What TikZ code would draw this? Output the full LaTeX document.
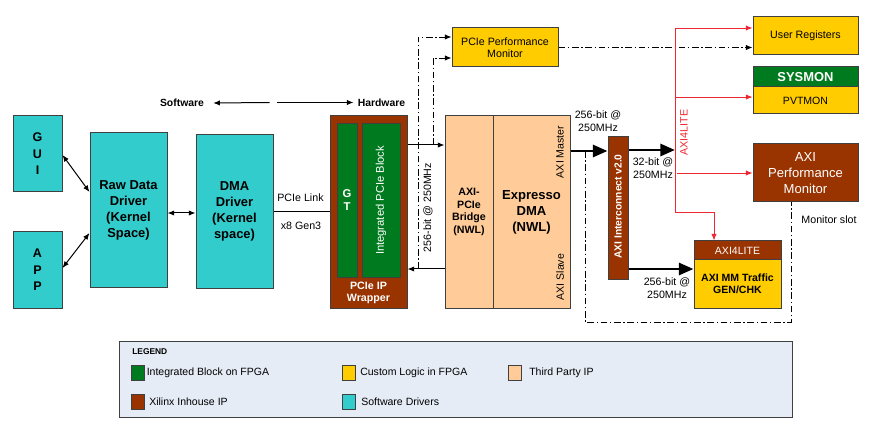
\documentclass[tikz,border=0pt]{standalone}
\usepackage{fontspec}
\setmainfont{Liberation Sans}
\usetikzlibrary{arrows.meta,calc}
\definecolor{tealc}{HTML}{33CCCC}
\definecolor{brownc}{HTML}{993300}
\definecolor{greenc}{HTML}{007A1E}
\definecolor{yellowc}{HTML}{FFCC00}
\definecolor{peachc}{HTML}{FFCC99}
\definecolor{redc}{RGB}{238,40,50}
\definecolor{legbg}{HTML}{E6ECF6}
\definecolor{boxline}{HTML}{404040}
\begin{document}
\begin{tikzpicture}[x=0.75pt,y=-0.75pt,
  every node/.style={inner sep=0pt},
  box/.style={draw=boxline, line width=0.75pt, align=center, anchor=center},
  sz/.style 2 args={minimum width=#1*0.75pt, minimum height=#2*0.75pt},
  reg/.style={font=\fontsize{8}{9.75}\selectfont, align=center},
  conn/.style={draw=black, line width=0.75pt},
  arr/.style={conn, -{Latex[length=5pt,width=4pt]}},
  darr/.style={conn, {Latex[length=5pt,width=4pt]}-{Latex[length=5pt,width=4pt]}},
  thk/.style={draw=black, line width=2.2pt, -{Triangle[length=11pt,width=9pt]}},
  dd/.style={draw=black, line width=0.6pt, dash pattern=on 5pt off 2pt on 1pt off 2pt},
  ddarr/.style={dd, -{Latex[length=5pt,width=4pt]}},
  redl/.style={draw=redc, line width=0.6pt},
  redarr/.style={redl, -{Latex[length=5pt,width=4pt]}},
  legtext/.style={anchor=west, font=\fontsize{7.9}{9}\selectfont}
]
\useasboundingbox (0,0) rectangle (874,445);

% software side
\node[box, fill=tealc, sz={49}{76}, font=\bfseries\fontsize{9.4}{12.4}\selectfont] (gui) at (37.5,154) {G\\U\\I};
\node[box, fill=tealc, sz={49}{76}, font=\bfseries\fontsize{9.4}{12.4}\selectfont] (app) at (37.5,270) {A\\P\\P};
\node[box, fill=tealc, sz={77}{154}, font=\bfseries\fontsize{9.7}{12}\selectfont] (raw) at (128.5,210) {Raw Data\\Driver\\(Kernel\\Space)};
\node[box, fill=tealc, sz={77}{153}, font=\bfseries\fontsize{9.7}{12}\selectfont] (dma) at (234.5,211.5) {DMA\\Driver\\(Kernel\\space)};

% PCIe wrapper
\node[box, fill=brownc, sz={77}{192}] (wrap) at (368.5,212) {};
\node[box, fill=greenc, sz={20}{153}, text=white, font=\bfseries\fontsize{8.5}{9.75}\selectfont] (gt) at (347,200.5) {G\\T};
\node[box, fill=greenc, rotate=90, minimum width=153*0.75pt, minimum height=38*0.75pt, text=white, font=\fontsize{8.4}{10}\selectfont] (ipb) at (381,200.5) {Integrated PCIe Block};
\node[text=white, font=\bfseries\fontsize{8}{9}\selectfont, align=center] (wraptxt) at (368.5,293) {PCIe IP\\Wrapper};

% bridge and DMA
\node[box, fill=peachc, sz={48}{192}, font=\bfseries\fontsize{8}{9.5}\selectfont] (bridge) at (469,212) {AXI-\\PCIe\\Bridge\\(NWL)};
\node[box, fill=peachc, sz={77}{192}, font=\bfseries\fontsize{9.8}{12}\selectfont] (xdma) at (531.5,212) {Expresso\\DMA\\(NWL)};
\node[reg, rotate=90, font=\fontsize{7.9}{9}\selectfont] (axim) at (560,152) {AXI Master};
\node[reg, rotate=90, font=\fontsize{7.9}{9}\selectfont] (axis) at (560,277) {AXI Slave};

% PCIe performance monitor
\node[box, fill=yellowc, sz={106}{39}, font=\fontsize{8}{9.4}\selectfont] (ppm) at (505,47.5) {PCIe Performance\\Monitor};

% right side
\node[box, fill=yellowc, sz={105}{38}, font=\fontsize{8}{9.4}\selectfont] (ureg) at (805.5,36) {User Registers};
\node[box, fill=greenc, sz={105}{20}, text=white, font=\bfseries\fontsize{9.7}{11}\selectfont] (sysmon) at (805.5,77) {SYSMON};
\node[box, fill=yellowc, sz={105}{27}, font=\fontsize{7.9}{9}\selectfont] (pvt) at (805.5,100.5) {PVTMON};
\node[box, fill=brownc, sz={105}{58}, text=white, font=\fontsize{9.8}{12}\selectfont] (axipm) at (805.5,173) {AXI\\Performance\\Monitor};
\node[box, fill=brownc, sz={87}{19}, text=white, font=\fontsize{7.9}{9}\selectfont] (tghead) at (737.5,250.5) {AXI4LITE};
\node[box, fill=yellowc, sz={87}{48}, font=\bfseries\fontsize{7.9}{9}\selectfont] (tgbody) at (737.5,284) {AXI MM Traffic\\GEN/CHK};
\node[box, fill=brownc, sz={20}{142}] (ic) at (618,208) {};
\node[rotate=90, text=white, font=\bfseries\fontsize{7.7}{9}\selectfont] (ictxt) at (618,206.5) {AXI Interconnect v2.0};

% software / hardware
\node[font=\bfseries\fontsize{7.8}{9}\selectfont] (swtext) at (182,103) {Software};
\node[font=\bfseries\fontsize{7.8}{9}\selectfont] (hwtext) at (381.5,102.5) {Hardware};
\coordinate (swsplit) at (273,102.5);
\draw[arr] ([xshift=-2.5pt]swsplit) -- ([xshift=6.75pt]swtext.east);
\draw[arr] ([xshift=3pt]swsplit) -- ([xshift=-3pt]hwtext.west);

% software connectors
\draw[darr] ([yshift=-0.75pt]gui.east) -- ([yshift=13.5pt]raw.west);
\draw[darr] ([yshift=1.5pt]app.east) -- ([yshift=-17.25pt]raw.west);
\draw[darr] ([yshift=-2.25pt]raw.east) -- ([yshift=-2.25pt]raw.east -| dma.west);
\draw[conn] (dma.east) -- (dma.east -| wrap.west);
\node[reg] (plink) at (300.5,198) {PCIe Link};
\node[reg] (pgen) at (301,226) {x8 Gen3};

% wrapper <-> bridge
\coordinate (wb1) at ([yshift=50.25pt]wrap.east);
\coordinate (wb2) at ([yshift=-42.75pt]wrap.east);
\draw[arr] (wb1) -- (wb1 -| bridge.west);
\draw[arr] (wb2 -| bridge.west) -- (wb2);
\coordinate (tapA) at (418,269);
\coordinate (tapB) at (433,145);
\draw[ddarr] (tapA) |- ([yshift=7.875pt]ppm.west);
\draw[ddarr] (tapB) |- ([yshift=-7.875pt]ppm.west);
\node[reg, rotate=90] (bw) at (428,207.5) {256-bit @ 250MHz};
\draw[ddarr] (ppm.east) -- (ppm.east -| ureg.west);

% thick data paths
\coordinate (xm) at ([yshift=45.75pt]xdma.east);
\draw[thk] (xm) -- (xm -| ic.west);
\coordinate (rtop) at (675,28);
\coordinate (rbot) at (675,212);
\coordinate (icu) at ([yshift=43.5pt]ic.east);
\draw[thk] (icu) -- (icu -| rtop);
\coordinate (icl) at ([yshift=-45.75pt]ic.east);
\draw[thk] (icl) -- (icl -| tgbody.west);
\node[reg] (bw1) at (598,121) {256-bit @\\250MHz};
\node[reg] (bw2) at (653,168) {32-bit @\\250MHz};
\node[reg] (bw3) at (667,288) {256-bit @\\250MHz};

% monitor slot
\coordinate (tapC) at (585,151);
\coordinate (ddbot) at (791,322);
\draw[dd] (tapC) |- (ddbot) -- ([xshift=-10.875pt]axipm.south);
\node[reg] (mslot) at (829,220) {Monitor slot};

% AXI4LITE red bus
\draw[redl] (rtop) -- (rbot);
\draw[redarr] (rtop) -- (rtop -| ureg.west);
\coordinate (pvtin) at ([yshift=2.6pt]pvt.west);
\draw[redarr] (rtop |- pvtin) -- (pvtin);
\draw[redarr] ([xshift=1.5pt]rtop |- axipm.west) -- (axipm.west);
\coordinate (tgin) at ([xshift=-17.625pt]tghead.north);
\draw[redarr] (rbot) -| (tgin);
\node[reg, rotate=90, text=redc] (a4l) at (684,132.5) {AXI4LITE};

% legend
\node[draw=boxline, fill=legbg, line width=0.75pt, minimum width=673*0.75pt, minimum height=76*0.75pt] (legend) at (455.5,379) {};
\node[anchor=west, font=\bfseries\fontsize{6.3}{7}\selectfont] (legt) at (132,352) {LEGEND};
\node[box, fill=greenc, sz={13}{15}] (lg1) at (137.5,372.5) {};
\node[legtext] (lt1) at (146.5,372.5) {Integrated Block on FPGA};
\node[box, fill=yellowc, sz={13}{15}] (lg2) at (348.5,372.5) {};
\node[legtext] (lt2) at (360,372.5) {Custom Logic in FPGA};
\node[box, fill=peachc, sz={13}{15}] (lg3) at (514.5,372.5) {};
\node[legtext] (lt3) at (529,372.5) {Third Party IP};
\node[box, fill=brownc, sz={13}{15}] (lg4) at (137.5,401.5) {};
\node[legtext] (lt4) at (149,401.5) {Xilinx Inhouse IP};
\node[box, fill=tealc, sz={13}{15}] (lg5) at (348.5,401.5) {};
\node[legtext] (lt5) at (361,401.5) {Software Drivers};
\end{tikzpicture}
\end{document}
